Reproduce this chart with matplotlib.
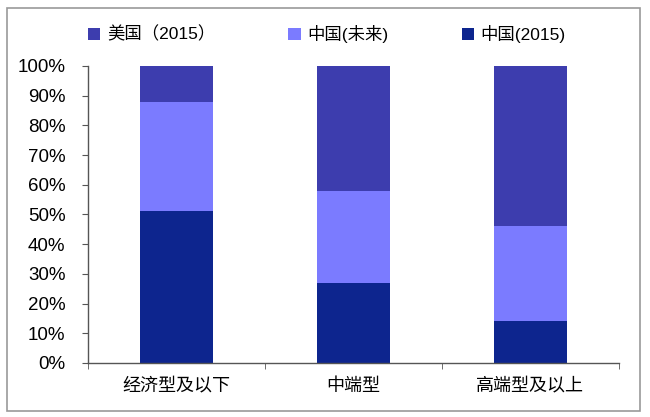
import numpy as np
import matplotlib.pyplot as plt
from matplotlib.patches import Rectangle

plt.rcParams['font.family'] = ['Liberation Sans', 'Noto Sans CJK SC', 'DejaVu Sans']

categories = ['经济型及以下', '中端型', '高端型及以上']
cn_2015 = [51, 27, 14]
cn_future = [37, 31, 32]
us_2015 = [12, 42, 54]

c_us = '#3D3DAE'
c_fut = '#7B7BFF'
c_cn = '#0D258E'

fig = plt.figure(figsize=(6.5, 4.17), dpi=100)
ax = fig.add_axes([0.135, 0.1295, 0.817, 0.7125])

x = np.arange(len(categories))
w = 0.41
b1 = ax.bar(x, np.array(cn_2015) / 100, w, color=c_cn, label='中国(2015)')
b2 = ax.bar(x, np.array(cn_future) / 100, w, bottom=np.array(cn_2015) / 100,
            color=c_fut, label='中国(未来)')
b3 = ax.bar(x, np.array(us_2015) / 100, w,
            bottom=(np.array(cn_2015) + np.array(cn_future)) / 100,
            color=c_us, label='美国（2015）')

ax.set_xlim(-0.5, 2.5)
ax.set_ylim(0, 1)
ax.set_yticks(np.arange(0, 1.01, 0.1))
ax.set_yticklabels(['%d%%' % v for v in range(0, 101, 10)], fontsize=13.5)
ax.set_xticks(x)
ax.set_xticklabels(categories, fontsize=13, family=['Noto Sans CJK SC', 'DejaVu Sans'])
ax.set_xticks([-0.5, 0.5, 1.5, 2.5], minor=True)
ax.tick_params(axis='x', which='major', length=0, pad=10)
ax.tick_params(axis='x', which='minor', length=4, color='#555555', direction='out')
ax.tick_params(axis='y', length=4, color='#555555', direction='out', pad=12)
for s in ['top', 'right']:
    ax.spines[s].set_visible(False)
for s in ['left', 'bottom']:
    ax.spines[s].set_color('#555555')
    ax.spines[s].set_linewidth(1)

leg = fig.legend(handles=[b3, b2, b1], loc='center', bbox_to_anchor=(0.503, 0.919),
                 ncol=3, frameon=False, fontsize=12.5, handlelength=0.7,
                 handleheight=0.7, handletextpad=0.4, columnspacing=4.2)

fig.patches.append(Rectangle((0.011, 0.0144), 0.974, 0.967, transform=fig.transFigure,
                             fill=False, edgecolor='#999999', linewidth=1.2))

fig.savefig('out.png', dpi=100)
